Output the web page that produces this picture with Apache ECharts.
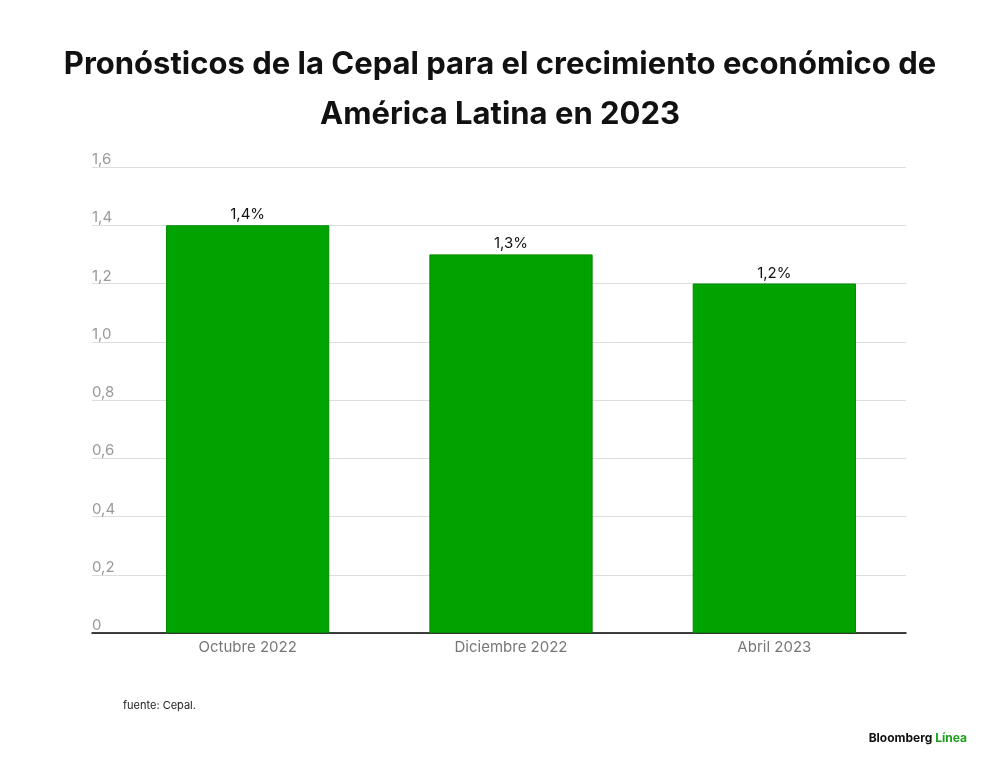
<!DOCTYPE html>
<html><head><meta charset="utf-8">
<script src="https://cdn.jsdelivr.net/npm/echarts@6/dist/echarts.min.js"></script>
<style>html,body{margin:0;background:#fff}#c{width:1000px;height:762px}</style>
</head><body><div id="c"></div>
<script>
const categories = ['Octubre 2022','Diciembre 2022','Abril 2023'];
const values = [1.4, 1.3, 1.2];
const chart = echarts.init(document.getElementById('c'));
chart.setOption({
  backgroundColor:'#fff',
  title:[{text:'Pronósticos de la Cepal para el crecimiento económico de\nAmérica Latina en 2023',left:'center',top:35,
    textStyle:{fontFamily:'Inter',fontWeight:'bold',fontSize:31,lineHeight:50,color:'#111',letterSpacing:-1.3}},
    {text:'fuente: Cepal.',left:118,top:695,textStyle:{fontFamily:'Inter',fontSize:11,fontWeight:'normal',color:'#222'}},
    {text:'Bloomberg {g|Línea}',right:28,top:727,textStyle:{fontFamily:'Inter',fontSize:12,fontWeight:'bold',color:'#111',rich:{g:{fontFamily:'Inter',fontSize:12,fontWeight:'bold',color:'#1aa21a'}}}}],
  grid:[{left:92,right:94,top:167,bottom:129},{left:116,right:94,top:167,bottom:129}],
  xAxis:[{type:'value',gridIndex:0,min:0,max:1,axisLabel:{show:false},axisTick:{show:false},splitLine:{show:false},
      axisLine:{show:true,onZero:false,lineStyle:{color:'#000',width:1.5}}},
    {type:'category',gridIndex:1,data:categories,axisTick:{show:false},axisLine:{show:false},
      axisLabel:{fontFamily:'Inter',fontSize:15,color:'#777',margin:7}}],
  yAxis:[{type:'value',gridIndex:0,min:0,max:1.6,interval:0.2,axisLine:{show:false},axisTick:{show:false},
    axisLabel:{align:'left',verticalAlign:'bottom',margin:0,fontFamily:'Inter',fontSize:15,color:'#999',
      formatter:v=>v===0?'0':v.toFixed(1).replace('.',',')},
    splitLine:{lineStyle:{color:'#ddd'}}},
    {type:'value',gridIndex:1,min:0,max:1.6,interval:0.2,axisLabel:{show:false},axisTick:{show:false},splitLine:{show:false},axisLine:{show:false}}],
  series:[{type:'bar',xAxisIndex:1,yAxisIndex:1,data:values,barWidth:'62%',
    itemStyle:{color:'#00a300',borderColor:'#008a00',borderWidth:1},
    label:{show:true,position:'top',distance:3,fontFamily:'Inter',fontSize:15,color:'#111',
      formatter:p=>p.value.toFixed(1).replace('.',',')+'%'}}]
});
</script></body></html>
